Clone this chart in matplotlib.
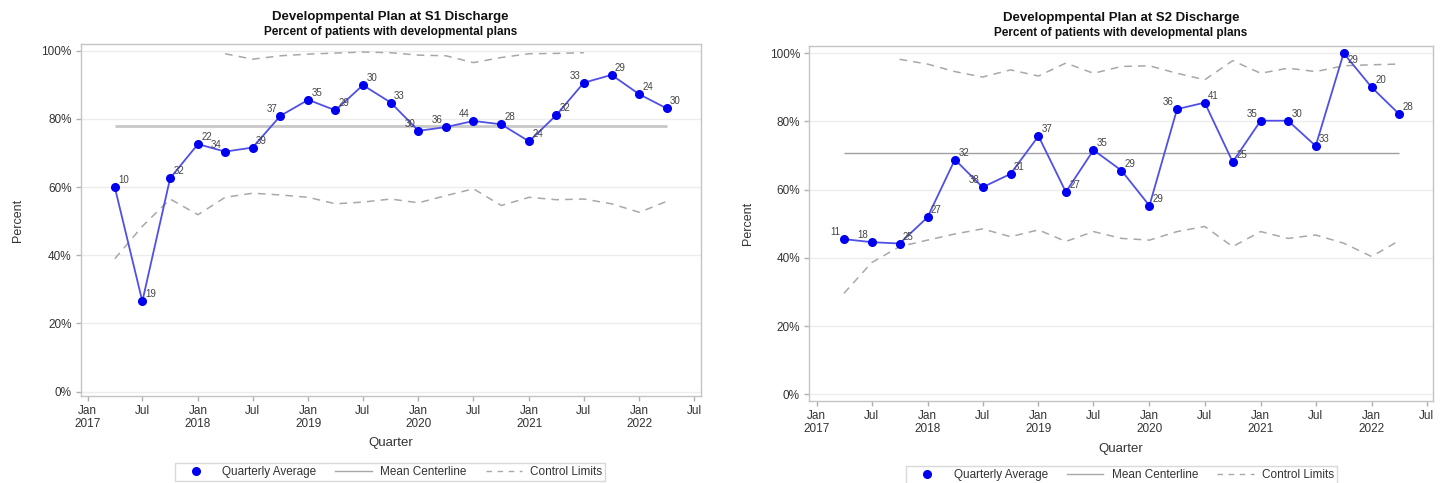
import numpy as np
import pandas as pd
import matplotlib
matplotlib.use('Agg')
import matplotlib.pyplot as plt
import matplotlib.dates as mdates
from matplotlib.lines import Line2D
from matplotlib.ticker import FuncFormatter, FixedLocator

plt.rcParams['font.family'] = ['Liberation Sans', 'DejaVu Sans']

# Trimestres (primer día del trimestre)
trimestres = ['2017-04-01', '2017-07-01', '2017-10-01', '2018-01-01', '2018-04-01',
              '2018-07-01', '2018-10-01', '2019-01-01', '2019-04-01', '2019-07-01',
              '2019-10-01', '2020-01-01', '2020-04-01', '2020-07-01', '2020-10-01',
              '2021-01-01', '2021-04-01', '2021-07-01', '2021-10-01', '2022-01-01',
              '2022-04-01']

# S1: porcentaje, n por trimestre, media y límites de control
s1_pct = [59.9, 26.5, 62.6, 72.6, 70.4, 71.6, 80.9, 85.6, 82.5, 89.9, 84.8,
          76.5, 77.6, 79.4, 78.4, 73.4, 81.1, 90.6, 92.9, 87.2, 83.1]
s1_n = [10, 19, 32, 22, 34, 39, 37, 35, 29, 30, 33, 30, 36, 44, 28, 24, 32, 33, 29, 24, 30]
s1_media = 78.0
s1_lsc = [np.nan, np.nan, np.nan, np.nan, 99.1, 97.5, 98.5, 99.0, 99.3, 99.6, 99.4,
          98.7, 98.5, 96.5, 98.0, 99.1, 99.2, 99.4, np.nan, np.nan, np.nan]
s1_lic = [39.0, 48.5, 56.5, 51.9, 57.0, 58.2, 57.7, 57.0, 55.1, 55.6, 56.5,
          55.4, 57.5, 59.5, 54.6, 57.0, 56.3, 56.5, 55.1, 52.6, 55.8]

# S2
s2_pct = [45.5, 44.6, 44.2, 51.9, 68.8, 60.7, 64.6, 75.7, 59.3, 71.6, 65.6,
          55.3, 83.6, 85.5, 68.1, 80.2, 80.2, 72.8, 100.0, 90.0, 82.2]
s2_n = [11, 18, 25, 27, 32, 38, 31, 37, 27, 35, 29, 29, 36, 41, 25, 35, 30, 33, 29, 20, 28]
s2_media = 70.7
s2_lsc = [np.nan, np.nan, 98.2, 96.8, 94.6, 93.0, 95.1, 93.3, 97.1, 94.1, 96.1,
          96.3, 94.1, 92.2, 97.8, 94.1, 95.6, 94.6, 96.3, 96.6, 96.8]
s2_lic = [29.6, 38.6, 43.3, 45.2, 47.0, 48.5, 46.2, 48.2, 44.8, 47.7, 45.7,
          45.2, 47.7, 49.2, 43.3, 47.7, 45.7, 46.7, 44.3, 40.4, 45.0]

# lado de cada etiqueta: r = derecha, l = izquierda, b = derecha abajo
s1_lados = "rrrrlrlrrrrlllrrrlrrr"
s2_lados = "llrrrlrrrrrrlrrlrrbrr"

titulo_sub = "Percent of patients with developmental plans"

COLOR_TEXTO = '#333333'
COLOR_GRIS = '#a8a8a8'


def formato_fecha(x, pos):
    d = mdates.num2date(x)
    if d.month == 1:
        return 'Jan\n%d' % d.year
    return 'Jul'


def dibujar_panel(ax, fechas, pct, n, media, lsc, lic, lados, xlim, ylim,
                  grosor_media, color_media):
    # Límites de control
    ax.plot(fechas, lsc, ls=(0, (5, 4)), color=COLOR_GRIS, lw=1.1)
    ax.plot(fechas, lic, ls=(0, (5, 4)), color=COLOR_GRIS, lw=1.1)
    # Línea central (media)
    ax.hlines(media, fechas[0], fechas[-1], color=color_media, lw=grosor_media)
    # Promedio trimestral
    ax.plot(fechas, pct, color='#5050e6', lw=1.3, marker='o', ms=5.5,
            mfc='#0000f0', mec='#0000f0', zorder=4)

    for f, v, k, lado in zip(fechas, pct, n, lados):
        if lado == 'r':
            dx, dy, ha = 2.5, 5, 'left'
        elif lado == 'l':
            dx, dy, ha = -2.5, 5, 'right'
        else:
            dx, dy, ha = 2.5, -5, 'left'
        ax.annotate(str(k), (f, v), xytext=(dx, dy), textcoords='offset points',
                    ha=ha, va='center', fontsize=7, color='#444444', zorder=5)

    ax.set_xlim(*xlim)
    ax.set_ylim(*ylim)

    ticks_x = mdates.date2num(pd.date_range('2017-01-01', '2022-07-01', freq='6MS'))
    ax.xaxis.set_major_locator(FixedLocator(ticks_x))
    ax.xaxis.set_major_formatter(FuncFormatter(formato_fecha))
    ax.set_yticks([0, 20, 40, 60, 80, 100])
    ax.yaxis.set_major_formatter(FuncFormatter(lambda y, p: '%d%%' % y))

    ax.grid(axis='y', color='#ececec', lw=1)
    ax.set_axisbelow(True)
    for s in ax.spines.values():
        s.set_color('#c4c4c4')
        s.set_linewidth(1)
    ax.tick_params(axis='both', colors='#b0b0b0', length=3.6, width=1,
                   labelcolor=COLOR_TEXTO, labelsize=8.5, pad=3)
    for t in ax.get_xticklabels():
        t.set_linespacing(1.05)


fig = plt.figure(figsize=(14.43, 4.83), dpi=100)
W, H = 1443.0, 483.0


def rect(x0, y0, x1, y1):
    return [x0 / W, 1 - y1 / H, (x1 - x0) / W, (y1 - y0) / H]


ax1 = fig.add_axes(rect(80.7, 44, 700.7, 396))
ax2 = fig.add_axes(rect(809, 46, 1433, 401))

fechas = mdates.date2num(pd.to_datetime(trimestres))

xlim1 = (mdates.date2num(pd.Timestamp('2016-12-09')), mdates.date2num(pd.Timestamp('2022-07-23')))
xlim2 = (mdates.date2num(pd.Timestamp('2016-12-07')), mdates.date2num(pd.Timestamp('2022-07-22')))

dibujar_panel(ax1, fechas, s1_pct, s1_n, s1_media, s1_lsc, s1_lic, s1_lados,
              xlim1, (-1.26, 101.96), 2.0, '#c8c8c8')
dibujar_panel(ax2, fechas, s2_pct, s2_n, s2_media, s2_lsc, s2_lic, s2_lados,
              xlim2, (-1.96, 102.1), 1.0, '#a0a0a0')

# Títulos
fig.text(390.7 / W, 1 - 17 / H, "Developmpental Plan at S1 Discharge", ha='center',
         va='center', fontsize=9.5, fontweight='bold', color='#111111')
fig.text(390.7 / W, 1 - 32 / H, titulo_sub, ha='center', va='center',
         fontsize=8.5, fontweight='bold', color='#111111')
fig.text(1121 / W, 1 - 18.3 / H, "Developmpental Plan at S2 Discharge", ha='center',
         va='center', fontsize=9.5, fontweight='bold', color='#111111')
fig.text(1121 / W, 1 - 33.3 / H, titulo_sub, ha='center', va='center',
         fontsize=8.5, fontweight='bold', color='#111111')

# Etiquetas de ejes
for ax, (xq, yq), (xp, yp) in [(ax1, (0.5, -0.1335), (-0.101, 0.5)),
                               (ax2, (0.5, -0.1352), (-0.0978, 0.5))]:
    ax.set_xlabel('Quarter', fontsize=9.5, color=COLOR_TEXTO, va='center')
    ax.xaxis.set_label_coords(xq, yq)
    ax.set_ylabel('Percent', fontsize=9, color=COLOR_TEXTO, va='center')
    ax.yaxis.set_label_coords(xp, yp)

# Leyendas
elementos = [
    Line2D([], [], ls='none', marker='o', ms=5.5, mfc='#0000f0', mec='#0000f0',
           label='Quarterly Average'),
    Line2D([], [], color=COLOR_GRIS, lw=1.0, label='Mean Centerline'),
    Line2D([], [], color=COLOR_GRIS, lw=1.0, ls=(0, (4, 4)), label='Control Limits'),
]
for cx, cy in [(390 / W, 1 - 472 / H), (1121.5 / W, 1 - 475 / H)]:
    leg = fig.legend(handles=elementos, loc='center', bbox_to_anchor=(cx, cy),
                     ncol=3, fontsize=8.5, frameon=True, fancybox=False,
                     handlelength=3.1, handletextpad=0.7, columnspacing=1.6,
                     borderpad=0.25, borderaxespad=0)
    leg.get_frame().set_edgecolor('#d0d0d0')
    leg.get_frame().set_linewidth(1)
    for t in leg.get_texts():
        t.set_color(COLOR_TEXTO)

fig.savefig('out.png', dpi=100, facecolor='white')
